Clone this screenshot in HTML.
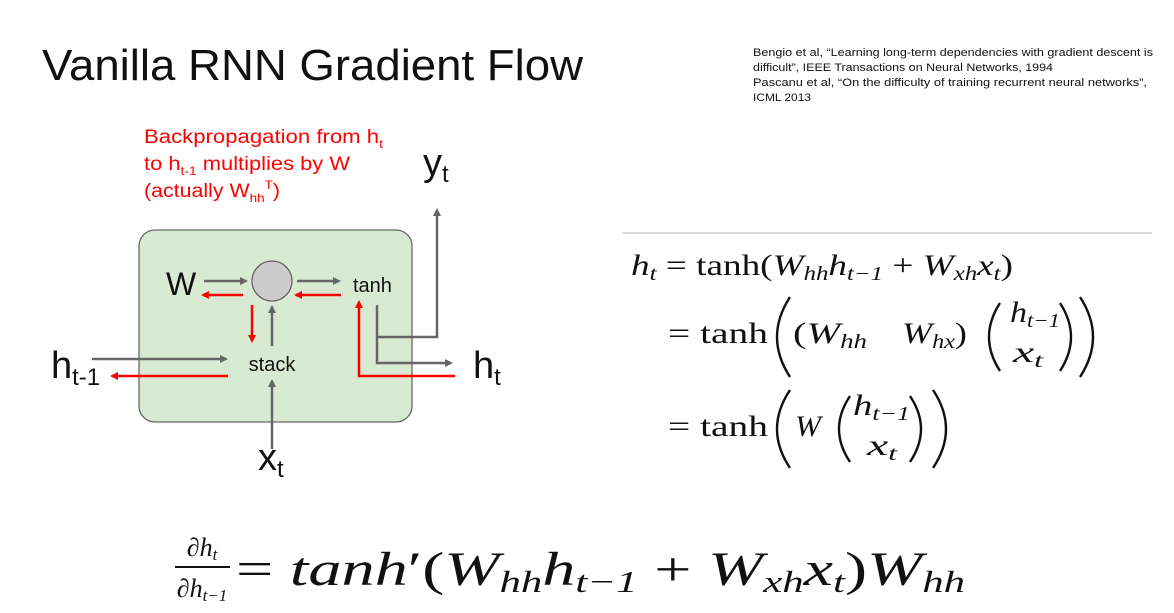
<!DOCTYPE html>
<html><head><meta charset="utf-8"><style>
body{margin:0;background:#fff;width:1174px;height:613px;overflow:hidden}
svg{display:block}
.s{font-family:"Liberation Sans",sans-serif}
.m{font-family:"Liberation Serif",serif}
</style></head><body>
<svg width="1174" height="613" viewBox="0 0 1174 613">
<defs>
<marker id="g" markerWidth="8" markerHeight="8" refX="6" refY="4" orient="auto" markerUnits="userSpaceOnUse"><path d="M0,0 L8,4 L0,8 z" fill="#666"/></marker>
<marker id="r" markerWidth="8" markerHeight="8" refX="6" refY="4" orient="auto" markerUnits="userSpaceOnUse"><path d="M0,0 L8,4 L0,8 z" fill="#f00"/></marker>
</defs>
<text class="s" x="42" y="80" font-size="44" fill="#111" textLength="541" lengthAdjust="spacingAndGlyphs">Vanilla RNN Gradient Flow</text>
<g class="s" font-size="11" fill="#111">
<text x="753" y="56" textLength="400" lengthAdjust="spacingAndGlyphs">Bengio et al, “Learning long-term dependencies with gradient descent is</text>
<text x="753" y="71" textLength="300" lengthAdjust="spacingAndGlyphs">difficult”, IEEE Transactions on Neural Networks, 1994</text>
<text x="753" y="86" textLength="394" lengthAdjust="spacingAndGlyphs">Pascanu et al, “On the difficulty of training recurrent neural networks”,</text>
<text x="753" y="101" textLength="58" lengthAdjust="spacingAndGlyphs">ICML 2013</text>
</g>
<g class="s" font-size="19" fill="#f00">
<text x="144" y="143" textLength="239" lengthAdjust="spacingAndGlyphs">Backpropagation from h<tspan font-size="12" dy="5">t</tspan></text>
<text x="144" y="170" textLength="206" lengthAdjust="spacingAndGlyphs">to h<tspan font-size="12" dy="5">t-1</tspan><tspan dy="-5"> multiplies by W</tspan></text>
<text x="144" y="197" textLength="136" lengthAdjust="spacingAndGlyphs">(actually W<tspan font-size="12" dy="5">hh</tspan><tspan font-size="12" dy="-13">T</tspan><tspan dy="8">)</tspan></text>
</g>
<rect x="139" y="230" width="273" height="192" rx="16" fill="#d9ead3" stroke="#666" stroke-width="1.3"/>
<circle cx="272" cy="281" r="20" fill="#ccc" stroke="#666" stroke-width="1.3"/>
<g stroke="#666" stroke-width="2.5" fill="none">
<line x1="204" y1="281" x2="246" y2="281" marker-end="url(#g)"/>
<line x1="297" y1="281" x2="339" y2="281" marker-end="url(#g)"/>
<line x1="272" y1="346" x2="272" y2="307" marker-end="url(#g)"/>
<line x1="92" y1="359" x2="226" y2="359" marker-end="url(#g)"/>
<line x1="272" y1="449" x2="272" y2="381" marker-end="url(#g)"/>
<polyline points="377,305 377,363 451,363" marker-end="url(#g)"/>
<polyline points="377,337 437,337 437,210" marker-end="url(#g)"/>
</g>
<g stroke="#f00" stroke-width="2.5" fill="none">
<line x1="243" y1="295" x2="203" y2="295" marker-end="url(#r)"/>
<line x1="341" y1="295" x2="296" y2="295" marker-end="url(#r)"/>
<line x1="252" y1="305" x2="252" y2="341" marker-end="url(#r)"/>
<line x1="228" y1="376" x2="112" y2="376" marker-end="url(#r)"/>
<polyline points="455,376 359,376 359,302" marker-end="url(#r)"/>
</g>
<g class="s" fill="#111">
<text x="166" y="295" font-size="32">W</text>
<text x="353" y="292" font-size="20">tanh</text>
<text x="272" y="371" font-size="20" text-anchor="middle">stack</text>
<text x="51" y="378" font-size="38">h<tspan font-size="24" dy="7">t-1</tspan></text>
<text x="473" y="378" font-size="38">h<tspan font-size="24" dy="7">t</tspan></text>
<text x="423" y="175" font-size="38">y<tspan font-size="24" dy="7">t</tspan></text>
<text x="258" y="470" font-size="38">x<tspan font-size="24" dy="7">t</tspan></text>
</g>
<line x1="622" y1="233" x2="1152" y2="233" stroke="#bbb" stroke-width="1"/>
<g class="m" font-size="30" fill="#111">
<text x="631" y="275" textLength="382" lengthAdjust="spacingAndGlyphs"><tspan font-style="italic">h</tspan><tspan font-size="20" font-style="italic" dy="5">t</tspan><tspan dy="-5"> = tanh(</tspan><tspan font-style="italic">W</tspan><tspan font-size="20" font-style="italic" dy="5">hh</tspan><tspan font-style="italic" dy="-5">h</tspan><tspan font-size="20" font-style="italic" dy="5">t−1</tspan><tspan dy="-5"> + </tspan><tspan font-style="italic">W</tspan><tspan font-size="20" font-style="italic" dy="5">xh</tspan><tspan font-style="italic" dy="-5">x</tspan><tspan font-size="20" font-style="italic" dy="5">t</tspan><tspan dy="-5">)</tspan></text>
<text x="668" y="343" textLength="100" lengthAdjust="spacingAndGlyphs">= tanh</text>
<text x="793" y="343" textLength="74" lengthAdjust="spacingAndGlyphs">(<tspan font-style="italic">W</tspan><tspan font-size="20" font-style="italic" dy="5">hh</tspan></text>
<text x="902" y="343" textLength="65" lengthAdjust="spacingAndGlyphs"><tspan font-style="italic">W</tspan><tspan font-size="20" font-style="italic" dy="5">hx</tspan><tspan dy="-5">)</tspan></text>
<text x="1010" y="322" textLength="50" lengthAdjust="spacingAndGlyphs"><tspan font-style="italic">h</tspan><tspan font-size="20" font-style="italic" dy="5">t−1</tspan></text>
<text x="1013" y="362" textLength="30" lengthAdjust="spacingAndGlyphs"><tspan font-style="italic">x</tspan><tspan font-size="20" font-style="italic" dy="5">t</tspan></text>
<text x="668" y="436" textLength="100" lengthAdjust="spacingAndGlyphs">= tanh</text>
<text x="795" y="436" font-style="italic" textLength="26" lengthAdjust="spacingAndGlyphs">W</text>
<text x="853" y="415" textLength="57" lengthAdjust="spacingAndGlyphs"><tspan font-style="italic">h</tspan><tspan font-size="20" font-style="italic" dy="5">t−1</tspan></text>
<text x="867" y="455" textLength="30" lengthAdjust="spacingAndGlyphs"><tspan font-style="italic">x</tspan><tspan font-size="20" font-style="italic" dy="5">t</tspan></text>
</g>
<g stroke="#111" stroke-width="2.4" fill="none">
<path d="M790,297 Q764,337 790,377"/>
<path d="M1000,303 Q978,337 1000,371"/>
<path d="M1060,303 Q1082,337 1060,371"/>
<path d="M1080,297 Q1106,337 1080,377"/>
<path d="M790,390 Q764,429 790,468"/>
<path d="M850,396 Q828,429 850,462"/>
<path d="M910,396 Q932,429 910,462"/>
<path d="M933,390 Q959,429 933,468"/>
</g>
<g class="m" fill="#111">
<text x="202" y="556" font-size="26" text-anchor="middle">∂<tspan font-style="italic">h</tspan><tspan font-size="17" font-style="italic" dy="4">t</tspan></text>
<line x1="175" y1="567" x2="230" y2="567" stroke="#111" stroke-width="2"/>
<text x="202" y="597" font-size="26" text-anchor="middle">∂<tspan font-style="italic">h</tspan><tspan font-size="17" font-style="italic" dy="4">t−1</tspan></text>
<text x="236" y="585" font-size="48" textLength="729" lengthAdjust="spacingAndGlyphs">= <tspan font-style="italic">tanh</tspan>′(<tspan font-style="italic">W</tspan><tspan font-size="31" font-style="italic" dy="7">hh</tspan><tspan font-style="italic" dy="-7">h</tspan><tspan font-size="31" font-style="italic" dy="7">t−1</tspan><tspan dy="-7"> + </tspan><tspan font-style="italic">W</tspan><tspan font-size="31" font-style="italic" dy="7">xh</tspan><tspan font-style="italic" dy="-7">x</tspan><tspan font-size="31" font-style="italic" dy="7">t</tspan><tspan dy="-7">)</tspan><tspan font-style="italic">W</tspan><tspan font-size="31" font-style="italic" dy="7">hh</tspan></text>
</g>
</svg>
</body></html>
